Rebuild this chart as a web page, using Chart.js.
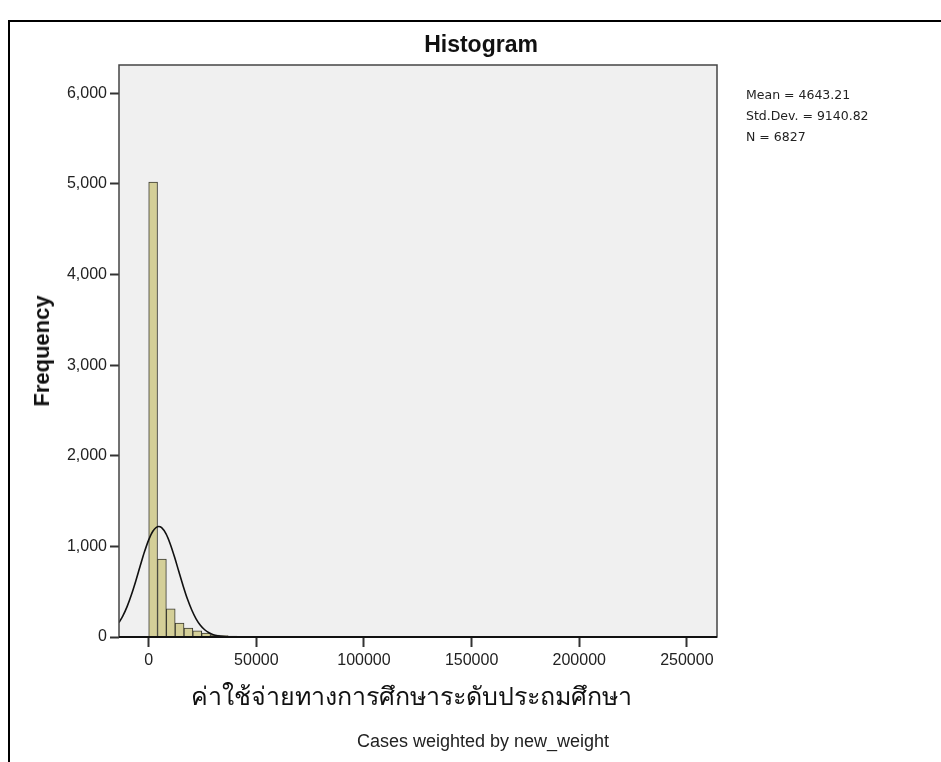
<!DOCTYPE html>
<html>
<head>
<meta charset="utf-8">
<script src="https://cdn.jsdelivr.net/npm/chart.js@4.4.1/dist/chart.umd.min.js"></script>
<style>
    html, body { margin: 0; padding: 0; background: #fff; }
    body { width: 941px; height: 762px; position: relative; overflow: hidden; font-family: "Liberation Sans", Arial, sans-serif; }
    .frame { position: absolute; left: 8px; top: 20px; width: 1000px; height: 1000px; border: 2px solid #000; }
    #wrap { position: absolute; left: 0; top: 0; width: 941px; height: 762px; }
    .lbl { position: absolute; color: #222; white-space: nowrap; }
    .title { left: 0; width: 962px; top: 31px; text-align: center; font-weight: bold; font-size: 23px; color: #111; }
    .ytitle { left: 42px; top: 351px; font-weight: bold; font-size: 22px; color: #111; transform: translate(-50%, -50%) rotate(-90deg); }
    .xtitle { left: 0; width: 822px; top: 676px; text-align: center; font-size: 25px; color: #111; }
    .note { left: 0; width: 966px; top: 731px; text-align: center; font-size: 18px; }
    .stats { left: 746px; top: 84px; font-family: "DejaVu Sans", sans-serif; font-size: 12.5px; line-height: 21px; }
</style>
</head>
<body>
<div class="frame"></div>
<div id="wrap"><canvas id="hist-chart" width="941" height="762"></canvas></div>
<div class="lbl title">Histogram</div>
<div class="lbl ytitle">Frequency</div>
<div class="lbl xtitle">ค่าใช้จ่ายทางการศึกษาระดับประถมศึกษา</div>
<div class="lbl note">Cases weighted by new_weight</div>
<div class="lbl stats">Mean = 4643.21<br>Std.Dev. = 9140.82<br>N = 6827</div>

<script>
    // 히스토그램 구간 (bin width ~4100, 0 부터 시작)
    var binWidth = 4100;
    var binCounts = [
        5020, 860, 312, 154, 99, 69, 44, 22, 15, 10,
        8, 6, 5, 4, 3, 3, 2, 2, 2, 1,
        1, 1, 1, 1, 1, 1, 1, 1, 1, 1,
        1, 1, 1, 1, 0, 1, 0, 1, 0, 0,
        0, 0, 0, 0, 0, 0, 0, 0, 0, 0,
        1, 0, 0, 0, 0, 0, 0, 0, 0, 0,
        0, 0, 0, 0
    ];

    // 정규분포 곡선
    var curveX = [-13800, -12000, -10000, -8000, -6000, -4000, -2000, 0, 2000, 4643,
        6000, 8000, 10000, 12000, 14000, 16000, 18000, 20000, 22000, 24000,
        26000, 28000, 30000, 32000, 34000, 36000, 38000, 40000, 44000, 50000, 264000];
    var curveY = [159, 233, 338, 469, 619, 780, 937, 1072, 1170, 1220,
        1207, 1140, 1027, 882, 722, 564, 419, 298, 201, 130,
        80, 47, 26, 14, 7, 3, 1.6, 0.7, 0.1, 0, 0];

    var xTicks = [0, 50000, 100000, 150000, 200000, 250000];
    var yTicks = [0, 1000, 2000, 3000, 4000, 5000, 6000];

    var xMin = -13800, xMax = 264000;
    var yMax = 6312;

    var barPoints = binCounts.map(function(v, i) {
        return { x: i * binWidth + binWidth / 2, y: v };
    });
    var curvePoints = curveX.map(function(x, i) {
        return { x: x, y: curveY[i] };
    });

    // 플롯 배경 + 테두리
    var plotFrame = {
        id: 'plotFrame',
        beforeDatasetsDraw: function(chart) {
            var a = chart.chartArea, c = chart.ctx;
            c.save();
            c.fillStyle = '#f0f0f0';
            c.fillRect(a.left, a.top, a.right - a.left, a.bottom - a.top);
            c.restore();
        },
        afterDatasetsDraw: function(chart) {
            var a = chart.chartArea, c = chart.ctx;
            c.save();
            c.strokeStyle = '#444';
            c.lineWidth = 1.5;
            c.strokeRect(a.left, a.top, a.right - a.left, a.bottom - a.top);
            c.strokeStyle = '#111';
            c.lineWidth = 2;
            c.beginPath();
            c.moveTo(a.left, a.bottom);
            c.lineTo(a.right, a.bottom);
            c.stroke();
            c.restore();
        }
    };

    var ctx = document.getElementById('hist-chart');
    new Chart(ctx, {
        type: 'bar',
        data: {
            datasets: [{
                type: 'line',
                data: curvePoints,
                borderColor: '#111',
                borderWidth: 1.6,
                pointRadius: 0,
                fill: false,
                cubicInterpolationMode: 'monotone',
                order: 0
            }, {
                type: 'bar',
                data: barPoints,
                backgroundColor: '#d4cf98',
                borderColor: '#3a3a30',
                borderWidth: 1,
                barPercentage: 1,
                categoryPercentage: 1,
                order: 1
            }]
        },
        plugins: [plotFrame],
        options: {
            responsive: false,
            animation: false,
            layout: { padding: { left: 0, right: 224, top: 65, bottom: 0 } },
            plugins: {
                legend: { display: false },
                tooltip: { enabled: false }
            },
            scales: {
                x: {
                    type: 'linear',
                    min: xMin,
                    max: xMax,
                    offset: false,
                    afterBuildTicks: function(scale) {
                        scale.ticks = xTicks.map(function(v) { return { value: v }; });
                    },
                    afterFit: function(scale) { scale.height = 125; },
                    grid: { offset: false, drawOnChartArea: false, drawTicks: true, tickLength: 10, tickWidth: 2, tickColor: '#333' },
                    border: { display: false },
                    ticks: {
                        autoSkip: false,
                        maxRotation: 0,
                        padding: 4,
                        color: '#222',
                        font: { family: 'Liberation Sans', size: 16 },
                        callback: function(v) { return String(v); }
                    }
                },
                y: {
                    min: 0,
                    max: yMax,
                    afterBuildTicks: function(scale) {
                        scale.ticks = yTicks.map(function(v) { return { value: v }; });
                    },
                    afterFit: function(scale) { scale.width = 119; },
                    grid: { drawOnChartArea: false, drawTicks: true, tickLength: 9, tickWidth: 2, tickColor: '#333' },
                    border: { display: false },
                    ticks: {
                        padding: 3,
                        color: '#222',
                        font: { family: 'Liberation Sans', size: 16 },
                        callback: function(v) { return v.toLocaleString('en-US'); }
                    }
                }
            }
        }
    });
</script>
</body>
</html>
